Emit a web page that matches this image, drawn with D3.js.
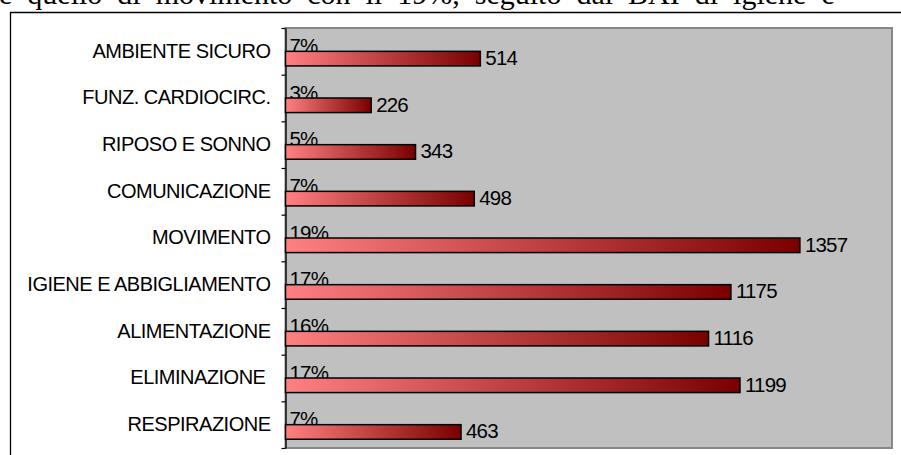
<!DOCTYPE html>
<html>
<head>
<meta charset="utf-8">
<script src="https://cdn.jsdelivr.net/npm/d3@7"></script>
<style>
    body { margin: 0; background: #ffffff; }
    text { white-space: pre; }
</style>
</head>
<body>
<div id="graph"></div>
<script>
    // The data, top to bottom as drawn
    var categories = [ 'AMBIENTE SICURO', 'FUNZ. CARDIOCIRC.', 'RIPOSO E SONNO', 'COMUNICAZIONE',
                       'MOVIMENTO', 'IGIENE E ABBIGLIAMENTO', 'ALIMENTAZIONE', 'ELIMINAZIONE ', 'RESPIRAZIONE' ];
    var values   = [ 514, 226, 343, 498, 1357, 1175, 1116, 1199, 463 ];
    var percents = [ '7%', '3%', '5%', '7%', '19%', '17%', '16%', '17%', '7%' ];

    var xMax = 1600;

    var headerText = 'e quello di movimento con il 19%, seguito dal BAI di igiene e';

    var width  = 901;
    var height = 455;

    var plot = { left: 285.5, right: 892, top: 28, bottom: 448 };

    var svg = d3.select ('#graph').append ('svg')
                .attr ('width', width)
                .attr ('height', height);

    // gradient used by every bar
    var grad = svg.append ('defs').append ('linearGradient')
                  .attr ('id', 'barGrad')
                  .attr ('x1', '0').attr ('y1', '0')
                  .attr ('x2', '1').attr ('y2', '0');
    grad.append ('stop').attr ('offset', '0').attr ('stop-color', '#ff8080');
    grad.append ('stop').attr ('offset', '1').attr ('stop-color', '#7a0000');

    // cut-off line of the document above the chart
    svg.append ('text')
       .attr ('x', -1)
       .attr ('y', 4)
       .attr ('word-spacing', '7.5px')
       .attr ('font-family', 'Liberation Serif, serif')
       .attr ('font-size', '30px')
       .attr ('fill', '#000')
       .text (headerText);

    // outer frame
    svg.append ('path')
       .attr ('d', 'M10.5,' + height + 'V12.5H' + width)
       .attr ('fill', 'none')
       .attr ('stroke', '#000')
       .attr ('stroke-width', 1.3);

    // plot area
    svg.append ('rect')
       .attr ('x', plot.left)
       .attr ('y', plot.top)
       .attr ('width', plot.right - plot.left)
       .attr ('height', plot.bottom - plot.top)
       .attr ('fill', '#c0c0c0')
       .attr ('stroke', '#878787')
       .attr ('stroke-width', 2);

    var xScale = d3.scaleLinear ()
                   .domain ([ 0, xMax ])
                   .range ([ plot.left, plot.right ]);

    var yScale = d3.scaleBand ()
                   .domain (categories)
                   .range ([ plot.top, plot.bottom ]);

    var bw = yScale.bandwidth ();
    var barH = bw / 3.2;

    // category labels
    var yAxis = d3.axisLeft (yScale)
                  .tickSize (0)
                  .tickPadding (15);

    var gy = svg.append ('g')
                .attr ('transform', 'translate(' + plot.left + ',0)')
                .call (yAxis);
    gy.select ('.domain').remove ();
    gy.selectAll ('text')
      .attr ('font-family', 'Liberation Sans, Arial, sans-serif')
      .attr ('font-size', '20px')
      .attr ('letter-spacing', '-0.5px')
      .attr ('fill', '#000')
      .attr ('dy', '0.32em');

    // tick marks sit between the categories
    var edgeScale = d3.scaleLinear ()
                      .domain ([ 0, categories.length ])
                      .range ([ plot.top, plot.bottom ]);

    var tickAxis = d3.axisLeft (edgeScale)
                     .ticks (categories.length)
                     .tickSize (4)
                     .tickSizeOuter (0)
                     .tickFormat ('');

    var gt = svg.append ('g')
                .attr ('transform', 'translate(' + plot.left + ',0)')
                .call (tickAxis);
    gt.selectAll ('line').attr ('stroke', '#000').attr ('stroke-width', 1.2);
    gt.select ('.domain').attr ('stroke', '#000').attr ('stroke-width', 1.3);

    // percent labels (drawn under the bars so the bar edge crosses them)
    svg.selectAll ('.pct')
       .data (categories)
       .enter ()
       .append ('text')
       .attr ('class', 'pct')
       .attr ('x', plot.left + 4)
       .attr ('y', function (d) { return yScale (d) + bw / 2 + 1.5; })
       .attr ('font-family', 'Liberation Sans, Arial, sans-serif')
       .attr ('font-size', '20.5px')
       .attr ('letter-spacing', '-0.8px')
       .attr ('fill', '#000')
       .text (function (d, i) { return percents[i]; });

    // bars
    svg.selectAll ('.bar')
       .data (values)
       .enter ()
       .append ('rect')
       .attr ('class', 'bar')
       .attr ('x', xScale (0))
       .attr ('y', function (d, i) { return yScale (categories[i]) + bw / 2; })
       .attr ('width', function (d) { return xScale (d) - xScale (0); })
       .attr ('height', barH)
       .attr ('fill', 'url(#barGrad)')
       .attr ('stroke', '#000')
       .attr ('stroke-width', 1.5);

    // value labels
    svg.selectAll ('.val')
       .data (values)
       .enter ()
       .append ('text')
       .attr ('class', 'val')
       .attr ('x', function (d) { return xScale (d) + 5; })
       .attr ('y', function (d, i) { return yScale (categories[i]) + bw / 2 + barH / 2 - 1; })
       .attr ('dy', '0.36em')
       .attr ('font-family', 'Liberation Sans, Arial, sans-serif')
       .attr ('font-size', '20.5px')
       .attr ('letter-spacing', '-0.8px')
       .attr ('fill', '#000')
       .text (function (d) { return d; });
</script>
</body>
</html>
